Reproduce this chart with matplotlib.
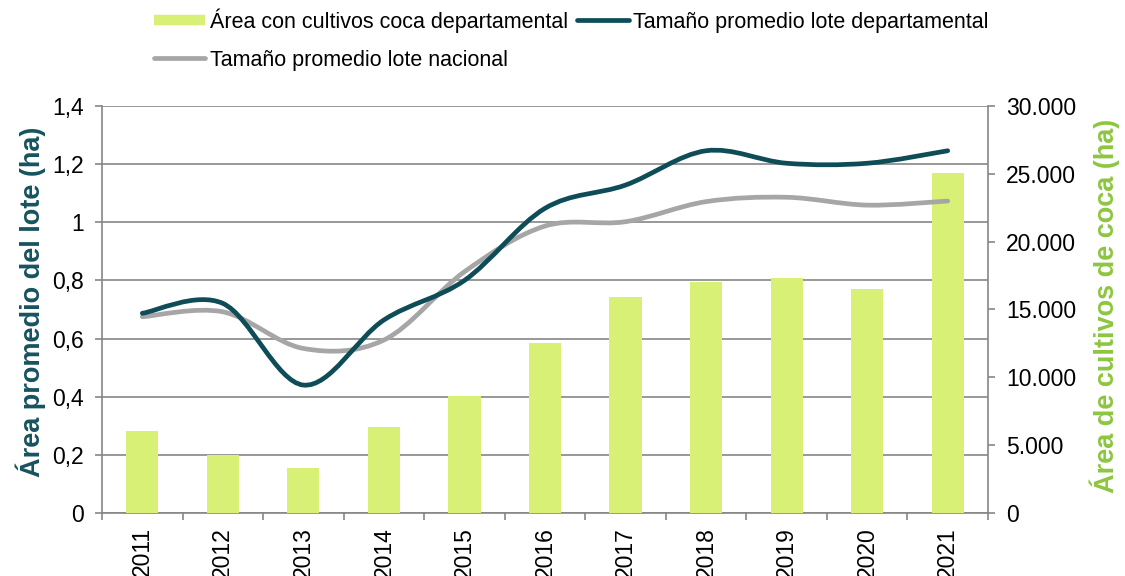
import numpy as np
import matplotlib
matplotlib.use("Agg")
import matplotlib.pyplot as plt
from matplotlib.path import Path
from matplotlib.patches import PathPatch
from matplotlib.lines import Line2D
from matplotlib.ticker import FixedLocator, FuncFormatter

plt.rcParams["font.family"] = ["Liberation Sans", "DejaVu Sans"]

years = ["2011", "2012", "2013", "2014", "2015", "2016", "2017", "2018", "2019", "2020", "2021"]
area_coca = [6030, 4300, 3330, 6350, 8650, 12550, 15900, 17050, 17300, 16500, 25050]
lote_dept = [0.687, 0.721, 0.44, 0.664, 0.80, 1.048, 1.128, 1.246, 1.203, 1.203, 1.246]
lote_nac = [0.675, 0.692, 0.566, 0.595, 0.83, 0.987, 1.002, 1.071, 1.086, 1.059, 1.073]

BAR_COLOR = "#D7F075"
DEPT_COLOR = "#0E4C57"
NAC_COLOR = "#A6A6A6"
AXIS_GRAY = "#868686"
LEFT_LABEL = "#17535E"
RIGHT_LABEL = "#8DC63F"
TICK_SIZE = 16.5


def smooth_path(xs, ys):
    # Excel-style smoothed line: cubic Bezier through every point
    pts = np.column_stack([xs, ys]).astype(float)
    n = len(pts)
    verts = [pts[0]]
    codes = [Path.MOVETO]
    for i in range(n - 1):
        p0 = pts[i - 1] if i > 0 else pts[i]
        p3 = pts[i + 2] if i + 2 < n else pts[i + 1]
        c1 = pts[i] + (pts[i + 1] - p0) / 6.0
        c2 = pts[i + 1] - (p3 - pts[i]) / 6.0
        verts += [c1, c2, pts[i + 1]]
        codes += [Path.CURVE4] * 3
    return Path(verts, codes)


fig = plt.figure(figsize=(11.25, 5.76), dpi=100)
ax = fig.add_axes([0.0907, 0.1094, 0.7875, 0.7066])
x = np.arange(len(years))

# left axis: grid and ticks
ax.set_xlim(-0.5, len(years) - 0.5)
ax.set_ylim(0, 1.4)
ax.yaxis.set_major_locator(FixedLocator(np.arange(0, 1.41, 0.2)))
ax.yaxis.set_major_formatter(FuncFormatter(lambda v, p: f"{v:.1f}".rstrip("0").rstrip(".").replace(".", ",")))
ax.grid(axis="y", color=AXIS_GRAY, linewidth=1.2)
ax.set_axisbelow(True)
ax.set_xticks(x)
ax.set_xticklabels(years, rotation=90, va="top")
ax.set_xticks(np.arange(-0.5, len(years)), minor=True)
ax.tick_params(axis="x", which="major", length=0, pad=10, labelsize=TICK_SIZE)
ax.tick_params(axis="x", which="minor", length=5, color=AXIS_GRAY, width=1.2)
ax.tick_params(axis="y", length=5, color=AXIS_GRAY, width=1.2, pad=8, labelsize=TICK_SIZE)
for side in ["top", "right"]:
    ax.spines[side].set_visible(False)
for side in ["left", "bottom"]:
    ax.spines[side].set_color(AXIS_GRAY)
    ax.spines[side].set_linewidth(1.2)
ax.set_ylabel("Área promedio del lote (ha)", color=LEFT_LABEL, fontsize=19.5, fontweight="bold")
ax.yaxis.set_label_coords(-0.063, 0.52)

# right axis: bars
ax2 = ax.twinx()
ax2.bar(x, area_coca, width=0.4, color=BAR_COLOR, zorder=2)
ax2.set_ylim(0, 30000)
ax2.yaxis.set_major_locator(FixedLocator(np.arange(0, 30001, 5000)))
ax2.yaxis.set_major_formatter(FuncFormatter(lambda v, p: f"{int(v):,}".replace(",", ".")))
ax2.tick_params(axis="y", length=5, color=AXIS_GRAY, width=1.2, pad=8, labelsize=TICK_SIZE)
for side in ["top", "left", "bottom"]:
    ax2.spines[side].set_visible(False)
ax2.spines["right"].set_color(AXIS_GRAY)
ax2.spines["right"].set_linewidth(1.2)
ax2.set_ylabel("Área de cultivos de coca (ha)", color=RIGHT_LABEL, fontsize=19.5, fontweight="bold")
ax2.yaxis.set_label_coords(1.115, 0.51)

# lines on top, in left-axis units
for vals, col in [(lote_nac, NAC_COLOR), (lote_dept, DEPT_COLOR)]:
    patch = PathPatch(smooth_path(x, vals), facecolor="none", edgecolor=col, linewidth=3.4,
                      capstyle="round", transform=ax.transData, zorder=3)
    ax2.add_patch(patch)

handles = [
    Line2D([], [], color=BAR_COLOR, linewidth=7.5, solid_capstyle="butt"),
    Line2D([], [], color=NAC_COLOR, linewidth=3.4, solid_capstyle="round"),
    Line2D([], [], color=DEPT_COLOR, linewidth=3.4, solid_capstyle="round"),
]
labels = ["Área con cultivos coca departamental", "Tamaño promedio lote nacional",
          "Tamaño promedio lote departamental"]
fig.legend(handles, labels, ncol=2, loc="upper left", bbox_to_anchor=(0.125, 1.008),
           frameon=False, fontsize=15.5, handlelength=2.4, handletextpad=0.2,
           columnspacing=0.45, labelspacing=0.8, borderaxespad=0.2)

fig.savefig("out.png", dpi=100)
